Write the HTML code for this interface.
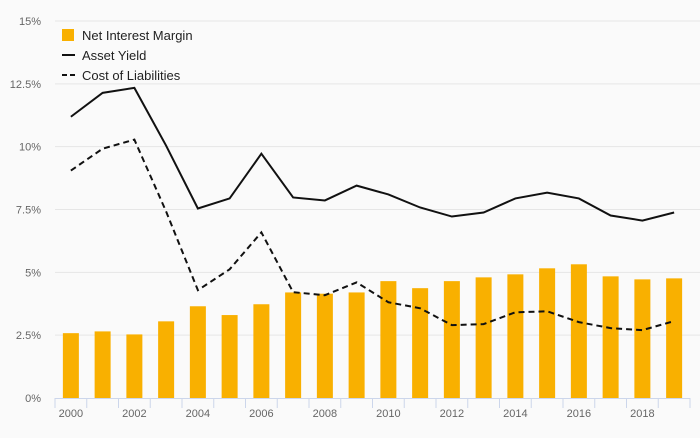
<!DOCTYPE html>
<html><head><meta charset="utf-8"><style>
body{margin:0;background:#fafafa;font-family:"Liberation Sans",sans-serif}
svg text{font-family:"Liberation Sans",sans-serif}
</style></head><body>
<svg id="c" width="700" height="433" xmlns="http://www.w3.org/2000/svg">
<rect width="700" height="433" fill="#fafafa"/>
<g id="grid"></g><g id="bars"></g><g id="lines"></g><g id="axes"></g>
<g font-size="13" fill="#222">
<rect x="62" y="29" width="12" height="12" fill="#f9b000"/>
<text x="82" y="40">Net Interest Margin</text>
<line x1="62" y1="55" x2="75" y2="55" stroke="#111" stroke-width="2"/>
<text x="82" y="60">Asset Yield</text>
<line x1="62" y1="75" x2="75" y2="75" stroke="#111" stroke-width="2" stroke-dasharray="5,3"/>
<text x="82" y="80">Cost of Liabilities</text>
</g>
</svg>
<script>
const years=[2000,2001,2002,2003,2004,2005,2006,2007,2008,2009,2010,2011,2012,2013,2014,2015,2016,2017,2018,2019];
const nim=[2.58,2.65,2.53,3.05,3.65,3.3,3.73,4.2,4.15,4.2,4.65,4.37,4.65,4.8,4.92,5.16,5.32,4.84,4.72,4.76];
const assetYield=[11.19,12.14,12.34,10.04,7.54,7.94,9.72,7.98,7.86,8.45,8.1,7.58,7.22,7.38,7.94,8.17,7.94,7.26,7.06,7.38];
const costLiab=[9.05,9.92,10.28,7.42,4.29,5.12,6.59,4.21,4.09,4.6,3.81,3.57,2.9,2.94,3.41,3.45,3.02,2.78,2.7,3.06];
const yTicks=[0,2.5,5,7.5,10,12.5,15];
const yLabels=["0%","2.5%","5%","7.5%","10%","12.5%","15%"];
const NS="http://www.w3.org/2000/svg";
const x0=55,x1=690,y0=398,y1=21,vmax=15;
const bw=(x1-x0)/years.length;
const xc=i=>x0+bw*(i+0.5);
const yv=v=>y0-(v/vmax)*(y0-y1);
function mk(t,a,p){const e=document.createElementNS(NS,t);for(const k in a)e.setAttribute(k,a[k]);p.appendChild(e);return e;}
const grid=document.getElementById('grid'),bars=document.getElementById('bars'),lines=document.getElementById('lines'),axes=document.getElementById('axes');
yTicks.forEach((v,i)=>{
 if(v>0){const g=mk('line',{x1:x0,x2:700,y1:yv(v),y2:yv(v),stroke:'#e6e6e6'},grid);
 
 }
 const t=mk('text',{x:41,y:yv(v)+4,'text-anchor':'end','font-size':'11',fill:'#666'},axes);t.textContent=yLabels[i];
 
 
});
nim.forEach((v,i)=>{
 const r=mk('rect',{x:xc(i)-8,y:yv(v),width:16,height:y0-yv(v),fill:'#f9b000'},bars);
 
 
});
const al=mk('polyline',{points:assetYield.map((v,i)=>xc(i)+','+yv(v)).join(' '),fill:'none',stroke:'#111','stroke-width':2},lines);


const cl=mk('polyline',{points:costLiab.map((v,i)=>xc(i)+','+yv(v)).join(' '),fill:'none',stroke:'#111','stroke-width':2,'stroke-dasharray':'6,4'},lines);


const ax=mk('line',{x1:x0,x2:x1,y1:y0+0.5,y2:y0+0.5,stroke:'#ccd6eb'},axes);


for(let i=0;i<=years.length;i++){
 const tk=mk('line',{x1:x0+bw*i,x2:x0+bw*i,y1:y0,y2:y0+10,stroke:'#ccd6eb'},axes);
 
 
}
years.forEach((y,i)=>{
 if(i%2)return;
 const t=mk('text',{x:xc(i),y:417,'text-anchor':'middle','font-size':'11',fill:'#666'},axes);t.textContent=y;
 
 
});
</script>
</body></html>
